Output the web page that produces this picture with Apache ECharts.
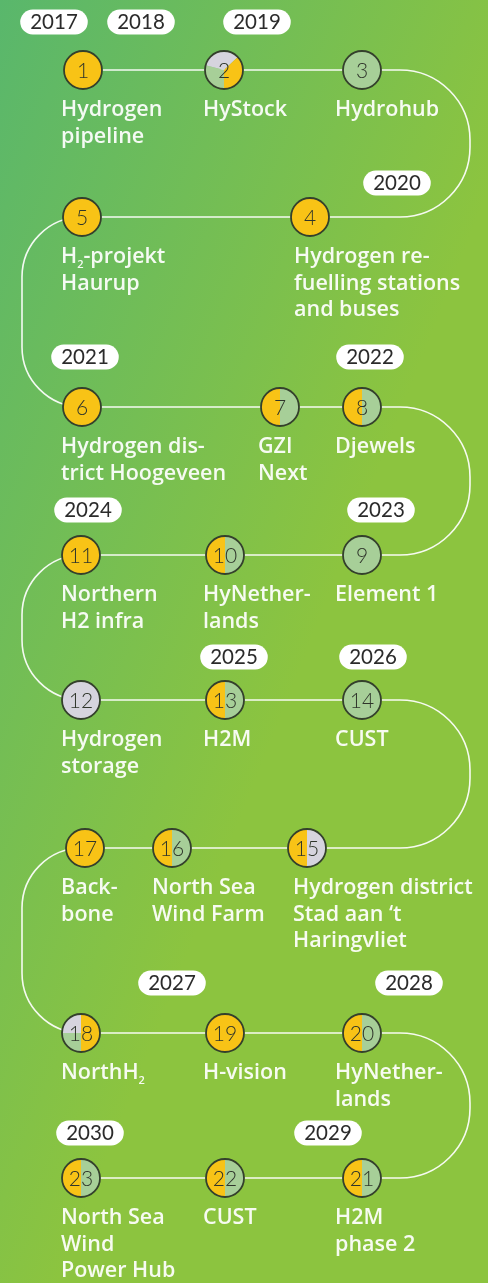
<!DOCTYPE html>
<html><head><meta charset="utf-8">
<script src="https://cdn.jsdelivr.net/npm/echarts@6/dist/echarts.min.js"></script>
<style>html,body{margin:0;padding:0;overflow:hidden;}#c{width:488px;height:1283px;}</style>
</head><body><div id="c"></div>
<script>
// ---- data ----
const nodeNumbers = [1,2,3,4,5,6,7,8,9,10,11,12,13,14,15,16,17,18,19,20,21,22,23];
const nodeX = [83,224,362,310,82,82,280,362,362,225,81,81,225,362,307,172,85,81,225,362,362,225,81];
const nodeY = [70,70,70,217,217,407,407,407,555,555,555,700,700,700,848,848,848,1033,1033,1033,1178,1178,1178];
// status shares, clockwise from the bottom: Y = yellow, G = green, S = grey
const nodeParts = [
  [['Y',1]], [['G',0.29],['S',0.34],['Y',0.37]], [['G',1]], [['Y',1]], [['Y',1]],
  [['Y',1]], [['Y',0.5],['G',0.5]], [['Y',0.5],['G',0.5]], [['G',1]], [['Y',0.5],['G',0.5]],
  [['Y',1]], [['S',1]], [['Y',0.5],['G',0.5]], [['G',1]], [['Y',0.5],['S',0.5]],
  [['Y',0.5],['G',0.5]], [['Y',1]], [['G',0.25],['S',0.25],['Y',0.5]], [['Y',1]], [['Y',0.5],['G',0.5]],
  [['Y',0.5],['G',0.5]], [['Y',0.5],['G',0.5]], [['Y',0.5],['G',0.5]]
];
const nodeLabels = [
  'Hydrogen\npipeline','HyStock','Hydrohub','Hydrogen re-\nfuelling stations\nand buses','H{s|2}-projekt\nHaurup',
  'Hydrogen dis-\ntrict Hoogeveen','GZI\nNext','Djewels','Element 1','HyNether-\nlands',
  'Northern\nH2 infra','Hydrogen\nstorage','H2M','CUST','Hydrogen district\nStad aan \u2018t\nHaringvliet',
  'North Sea\nWind Farm','Back-\nbone','NorthH{s|2}','H-vision','HyNether-\nlands',
  'H2M\nphase 2','CUST','North Sea\nWind\nPower Hub'
];
const labelX = [61,203,335,294,61,61,258,335,335,203,61,61,203,335,293,152,61,61,203,335,335,203,61];
const yearLabels = ['2017','2018','2019','2020','2021','2022','2023','2024','2025','2026','2027','2028','2029','2030'];
const yearX = [54,141,257,397,85,370,381,88,234,373,172,409,328,90];
const yearY = [22,22,22,183,357,357,510,510,657,657,983,983,1133,1133];
const pathRowY = [70,217,407,555,700,848,1033,1178];
const pathStartX = 83, pathEndX = 81;

// ---- styles ----
const COLORS = {Y:'#f8c316', G:'#a7cf98', S:'#d6d4de'};
const R_NODE = 19;
const LABEL_FILL = 'rgba(255,255,255,0.93)';

const chart = echarts.init(document.getElementById('c'), null, {renderer:'canvas'});

function pathRender(params, api) {
  const k = 0.5523;
  const P = (x,y) => api.coord([x,y]);
  let d = '';
  const s = P(pathStartX, pathRowY[0]);
  d += 'M' + s[0] + ' ' + s[1];
  for (let i = 0; i < pathRowY.length - 1; i++) {
    const right = i % 2 === 0;
    const ox = right ? 470 : 22;
    const R = right ? 70 : 60;
    const dir = right ? 1 : -1;
    const y0 = pathRowY[i], y1 = pathRowY[i+1];
    const a = P(ox - dir*R, y0);
    d += ' L' + a[0] + ' ' + a[1];
    const c1 = P(ox - dir*R + dir*R*k, y0), c2 = P(ox, y0 + R - R*k), b = P(ox, y0 + R);
    d += ' C' + c1[0] + ' ' + c1[1] + ' ' + c2[0] + ' ' + c2[1] + ' ' + b[0] + ' ' + b[1];
    const e = P(ox, y1 - R);
    d += ' L' + e[0] + ' ' + e[1];
    const c3 = P(ox, y1 - R + R*k), c4 = P(ox - dir*R + dir*R*k, y1), f = P(ox - dir*R, y1);
    d += ' C' + c3[0] + ' ' + c3[1] + ' ' + c4[0] + ' ' + c4[1] + ' ' + f[0] + ' ' + f[1];
  }
  const z = P(pathEndX, pathRowY[pathRowY.length-1]);
  d += ' L' + z[0] + ' ' + z[1];
  return {type:'path', shape:{pathData:d}, style:{fill:null, stroke:'rgba(255,255,255,0.92)', lineWidth:1.6}};
}

function nodeRender(params, api) {
  const i = params.dataIndex;
  const c = api.coord([api.value(0), api.value(1)]);
  const children = [];
  let acc = 0;
  nodeParts[i].forEach(([key, share]) => {
    if (share >= 1) {
      children.push({type:'circle', shape:{cx:c[0], cy:c[1], r:R_NODE}, style:{fill:COLORS[key]}});
    } else {
      children.push({type:'sector', shape:{cx:c[0], cy:c[1], r0:0, r:R_NODE,
        startAngle: Math.PI/2 + acc*2*Math.PI, endAngle: Math.PI/2 + (acc+share)*2*Math.PI, clockwise:true},
        style:{fill:COLORS[key]}});
    }
    acc += share;
  });
  children.push({type:'circle', shape:{cx:c[0], cy:c[1], r:R_NODE}, style:{fill:null, stroke:'#34402c', lineWidth:1.8}});
  children.push({type:'text', style:{text:String(nodeNumbers[i]), x:c[0], y:c[1]+1, align:'center', verticalAlign:'middle',
    fill:'#2f352b', fontFamily:'Lato', fontWeight:300, fontSize:21}});
  // label
  const lp = api.coord([labelX[i], api.value(1)]);
  children.push({type:'text', style:{text:nodeLabels[i], x:lp[0], y:lp[1] + 40 - 13.25, align:'left', verticalAlign:'top',
    fill:LABEL_FILL, fontFamily:'Open Sans', fontWeight:600, fontSize:21.5, lineHeight:26.5,
    rich:{s:{fontSize:11, fontFamily:'Open Sans', fontWeight:600, fill:LABEL_FILL, verticalAlign:'bottom', lineHeight:26.5}}}});
  return {type:'group', children};
}

function yearRender(params, api) {
  const i = params.dataIndex;
  const c = api.coord([api.value(0), api.value(1)]);
  return {type:'text', style:{text:yearLabels[i], x:c[0], y:c[1], align:'center', verticalAlign:'middle',
    fill:'#2b2b2b', fontFamily:'Lato', fontWeight:400, fontSize:20.5, lineHeight:20,
    backgroundColor:'#ffffff', borderRadius:12.5, padding:[3,10,2,10]}};
}

chart.setOption({
  animation:false,
  backgroundColor:{type:'linear', x:0, y:0, x2:1, y2:0.15, colorStops:[{offset:0,color:'#59b76c'},{offset:1,color:'#8cc43f'}]},
  grid:{left:0, right:0, top:0, bottom:0},
  xAxis:{type:'value', min:0, max:488, show:false},
  yAxis:{type:'value', min:0, max:1283, inverse:true, show:false},
  series:[
    {type:'custom', renderItem:pathRender, data:[[0,0]], z:1, silent:true, clip:false},
    {type:'custom', renderItem:nodeRender, data:nodeX.map((x,i)=>[x,nodeY[i]]), z:2, silent:true, clip:false},
    {type:'custom', renderItem:yearRender, data:yearX.map((x,i)=>[x,yearY[i]]), z:3, silent:true, clip:false}
  ]
});
</script></body></html>
